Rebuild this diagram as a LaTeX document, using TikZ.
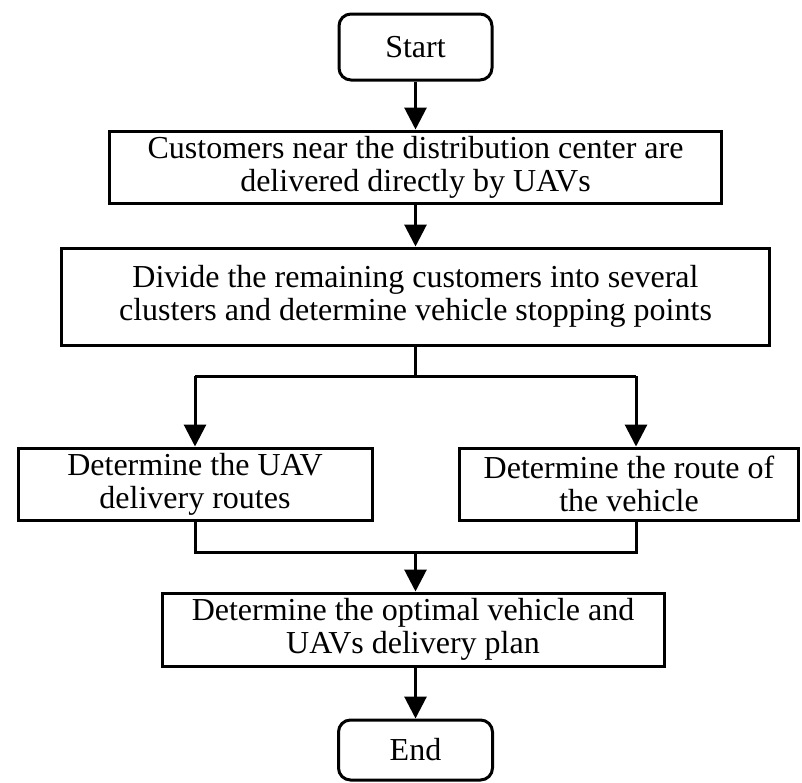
\documentclass[tikz,border=0pt]{standalone}
\usepackage{fontspec}
\setmainfont{Liberation Serif}
\usetikzlibrary{arrows.meta}
\tikzset{
  box/.style={draw, line width=3pt, align=center, inner sep=0pt,
    font=\fontsize{32}{33}\selectfont},
  term/.style={box, rounded corners=12pt},
  line/.style={line width=3pt},
  arrow/.style={line, -{Triangle[width=22pt,length=22pt]}}
}
\begin{document}
\begin{tikzpicture}[x=1pt,y=-1pt]
  \useasboundingbox (0,0) rectangle (802,782);
  % boxes
  \node[term, minimum width=153pt, minimum height=66pt] (start) at (415.5,47) {Start};
  \node[box, minimum width=612pt, minimum height=72pt] (near) at (415.5,167)
    {Customers near the distribution center are\\delivered directly by UAVs};
  \node[box, minimum width=708pt, minimum height=97pt] (divide) at (415.5,296.5)
    {Divide the remaining customers into several\\clusters and determine vehicle stopping points};
  \node[box, minimum width=354pt, minimum height=72pt] (uav) at (195,484)
    {Determine the UAV\\delivery routes};
  \node[box, minimum width=339pt, minimum height=72pt] (veh) at (629,484)
    {Determine the route of\\the vehicle};
  \node[box, minimum width=502pt, minimum height=73pt] (plan) at (413,629.5)
    {Determine the optimal vehicle and\\UAVs delivery plan};
  \node[term, minimum width=154pt, minimum height=60pt] (end) at (415.5,750) {End};
  % branch points
  \coordinate (forkL) at (195,376);
  \coordinate (forkR) at (636,376);
  \coordinate (joinL) at (195,552);
  \coordinate (joinR) at (636,552);
  % connectors
  \draw[arrow] (start) -- (near);
  \draw[arrow] (near) -- (divide);
  \draw[line] (divide.south) -- (divide.south |- forkL);
  \draw[line] (forkL) -- (forkR);
  \draw[arrow] (forkL) -- (forkL |- uav.north);
  \draw[arrow] (forkR) -- (forkR |- veh.north);
  \draw[line] (joinL |- uav.south) -- (joinL) -- (joinR) -- (joinR |- veh.south);
  \draw[arrow] (start.south |- joinL) -- (start.south |- plan.north);
  \draw[arrow] (start.south |- plan.south) -- (end);
\end{tikzpicture}
\end{document}
